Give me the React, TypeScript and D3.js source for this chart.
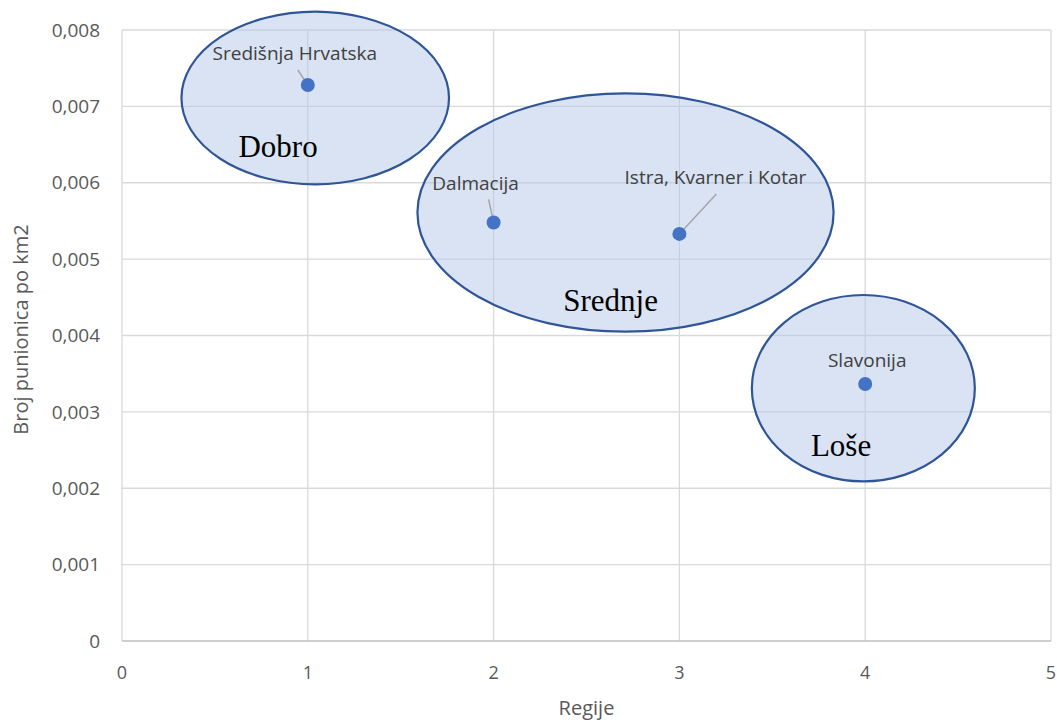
import React, { useEffect, useRef } from 'react';
import * as d3 from 'd3';

// regije i broj punionica po km2
const regionNames = ['Središnja Hrvatska', 'Dalmacija', 'Istra, Kvarner i Kotar', 'Slavonija'];
const regionX = [1, 2, 3, 4];
const regionY = [0.00728, 0.00548, 0.00533, 0.003365];
// pomak oznake (px) u odnosu na točku
const labelDx = [-13, -18, 36, 2];
const labelDy = [-32, -39, -57, -24];
const leaderDx = [-10, -5, 37, 0];
const leaderDy = [-15, -23, -40, 0];
const showLeader = [true, true, true, false];

// grupe (elipse) u jedinicama podataka
const groupNames = ['Dobro', 'Srednje', 'Loše'];
const groupCx = [1.04, 2.71, 3.99];
const groupCy = [0.00711, 0.00561, 0.00331];
const groupRx = [0.72, 1.12, 0.6];
const groupRy = [0.00113, 0.00156, 0.00122];
const groupLabelX = [0.84, 2.63, 3.87];
const groupLabelY = [0.00648, 0.00446, 0.00256];

const xTicks = [0, 1, 2, 3, 4, 5];
const yTicks = [0, 0.001, 0.002, 0.003, 0.004, 0.005, 0.006, 0.007, 0.008];

const App = () => {
  const ref = useRef<SVGSVGElement>(null);

  useEffect(() => {
    const width = 1057;
    const height = 723;
    const margin = { top: 30, right: 6, bottom: 82, left: 122 };
    const w = width - margin.left - margin.right;
    const h = height - margin.top - margin.bottom;

    const root = d3.select(ref.current);
    root.selectAll('*').remove();

    const svg = root.append('g').attr('transform', `translate(${margin.left},${margin.top})`);

    const x = d3.scaleLinear().domain([0, 5]).range([0, w]);
    const y = d3.scaleLinear().domain([0, 0.008]).range([h, 0]);
    const fmt = (v: number) => (v === 0 ? '0' : d3.format('.3f')(v).replace('.', ','));
    const sans = "'Open Sans', 'Noto Sans', sans-serif";

    // mreža
    svg.selectAll('.gx').data(xTicks).enter().append('line')
      .attr('x1', d => x(d)).attr('x2', d => x(d))
      .attr('y1', 0).attr('y2', h)
      .attr('stroke', '#d9d9d9').attr('stroke-width', 1.3);
    svg.selectAll('.gy').data(yTicks).enter().append('line')
      .attr('x1', 0).attr('x2', w)
      .attr('y1', d => y(d)).attr('y2', d => y(d))
      .attr('stroke', d => (d === 0 ? '#bfbfbf' : '#d9d9d9')).attr('stroke-width', 1.3);

    // oznake osi
    svg.selectAll('.tx').data(xTicks).enter().append('text')
      .attr('x', d => x(d)).attr('y', h + 38)
      .attr('text-anchor', 'middle')
      .style('font-family', sans).style('font-size', '18px').attr('fill', '#595959')
      .text(d => d);
    svg.selectAll('.ty').data(yTicks).enter().append('text')
      .attr('x', -22).attr('y', d => y(d)).attr('dy', '0.35em')
      .attr('text-anchor', 'end')
      .style('font-family', sans).style('font-size', '19px').attr('fill', '#595959')
      .text(d => fmt(d));

    svg.append('text')
      .attr('x', w / 2).attr('y', h + 74)
      .attr('text-anchor', 'middle')
      .style('font-family', sans).style('font-size', '20px').attr('fill', '#595959')
      .text('Regije');
    svg.append('text')
      .attr('transform', 'rotate(-90)')
      .attr('x', -h / 2 + 6).attr('y', -94)
      .attr('text-anchor', 'middle')
      .style('font-family', sans).style('font-size', '20px').attr('fill', '#595959')
      .text('Broj punionica po km2');

    // elipse
    svg.selectAll('.el').data(groupNames).enter().append('ellipse')
      .attr('cx', (d, i) => x(groupCx[i]))
      .attr('cy', (d, i) => y(groupCy[i]))
      .attr('rx', (d, i) => x(groupRx[i]) - x(0))
      .attr('ry', (d, i) => y(0) - y(groupRy[i]))
      .attr('fill', 'rgba(180,199,231,0.5)')
      .attr('stroke', '#2f5597').attr('stroke-width', 2.2);

    svg.selectAll('.gl').data(groupNames).enter().append('text')
      .attr('x', (d, i) => x(groupLabelX[i])).attr('y', (d, i) => y(groupLabelY[i]))
      .attr('text-anchor', 'middle').attr('dy', '0.35em')
      .style('font-family', "'Liberation Serif', 'Times New Roman', serif")
      .style('font-size', '31px').attr('fill', '#000')
      .text(d => d);

    // vodilice
    regionNames.forEach((name, i) => {
      if (!showLeader[i]) return;
      svg.append('line')
        .attr('x1', x(regionX[i]) + leaderDx[i])
        .attr('y1', y(regionY[i]) + leaderDy[i])
        .attr('x2', x(regionX[i]))
        .attr('y2', y(regionY[i]))
        .attr('stroke', '#a6a6a6').attr('stroke-width', 1.5);
    });

    // točke
    svg.selectAll('circle.pt').data(regionNames).enter().append('circle')
      .attr('class', 'pt')
      .attr('cx', (d, i) => x(regionX[i]))
      .attr('cy', (d, i) => y(regionY[i]))
      .attr('r', 7)
      .attr('fill', '#4472c4');

    svg.selectAll('.rl').data(regionNames).enter().append('text')
      .attr('x', (d, i) => x(regionX[i]) + labelDx[i])
      .attr('y', (d, i) => y(regionY[i]) + labelDy[i])
      .attr('text-anchor', 'middle').attr('dy', '0.35em')
      .style('font-family', sans).style('font-size', '19px').attr('fill', '#404040')
      .text(d => d);
  }, []);

  return (
    <svg ref={ref} width={1057} height={723}
      style={{ position: 'absolute', left: 0, top: 0, background: '#fff' }} />
  );
};

export default App;
